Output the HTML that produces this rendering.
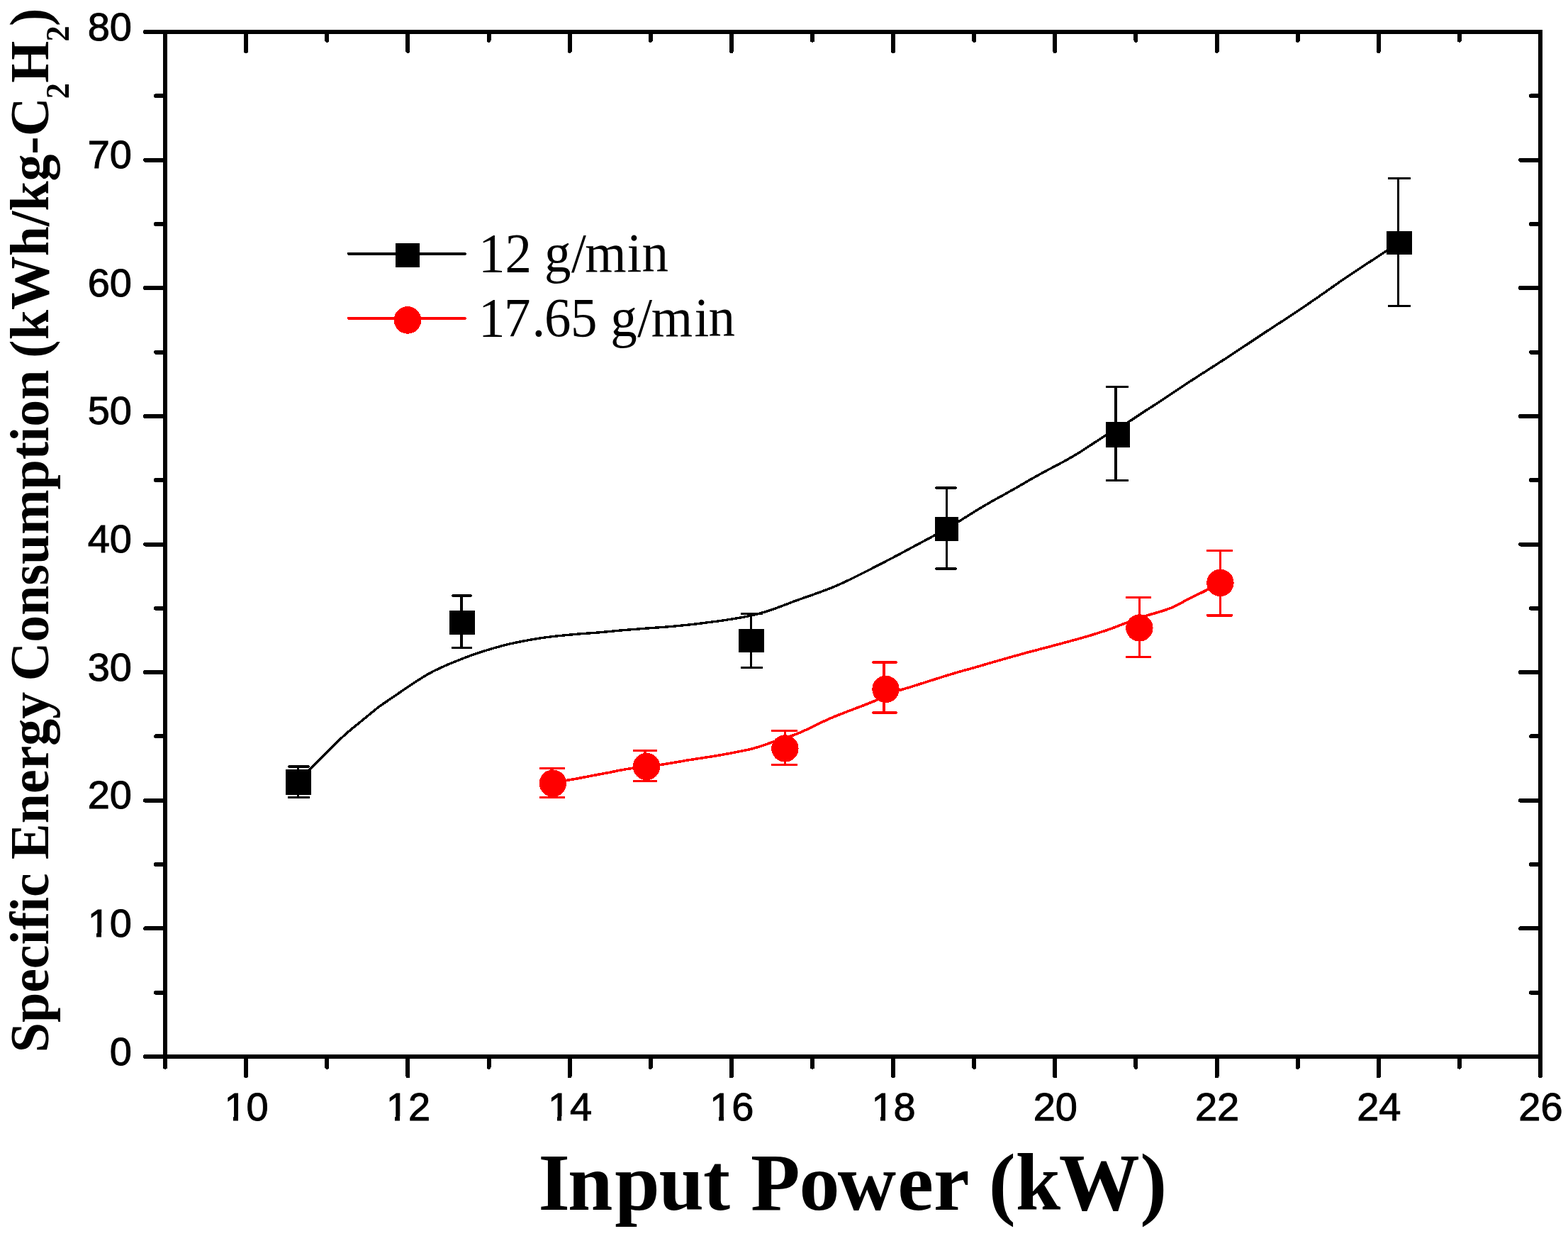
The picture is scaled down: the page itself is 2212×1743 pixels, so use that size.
<!DOCTYPE html><html><head><meta charset="utf-8"><title>Specific Energy Consumption vs Input Power</title>
<style>html,body{margin:0;padding:0;background:#fff;}svg{display:block;} line,rect,path,circle{shape-rendering:crispEdges;}</style></head><body>
<svg width="2212" height="1743" viewBox="0 0 2212 1743">
<rect x="0" y="0" width="2212" height="1743" fill="#fff"/>
<line x1="420.5" y1="1081.0" x2="420.5" y2="1124.5" stroke="#000" stroke-width="3.2"/>
<line x1="407.5" y1="1081.0" x2="435.5" y2="1081.0" stroke="#000" stroke-width="3.4" stroke-linecap="round"/>
<line x1="407.5" y1="1124.5" x2="435.5" y2="1124.5" stroke="#000" stroke-width="3.4" stroke-linecap="round"/>
<line x1="651.0" y1="840.0" x2="651.0" y2="913.4" stroke="#000" stroke-width="3.2"/>
<line x1="638.5" y1="840.0" x2="664.5" y2="840.0" stroke="#000" stroke-width="3.4" stroke-linecap="round"/>
<line x1="638.5" y1="913.4" x2="664.5" y2="913.4" stroke="#000" stroke-width="3.4" stroke-linecap="round"/>
<line x1="1059.5" y1="865.4" x2="1059.5" y2="941.4" stroke="#000" stroke-width="3.2"/>
<line x1="1046.5" y1="865.4" x2="1074.5" y2="865.4" stroke="#000" stroke-width="3.4" stroke-linecap="round"/>
<line x1="1046.5" y1="941.4" x2="1074.5" y2="941.4" stroke="#000" stroke-width="3.4" stroke-linecap="round"/>
<line x1="1335.4" y1="688.0" x2="1335.4" y2="801.9" stroke="#000" stroke-width="3.2"/>
<line x1="1320.5" y1="688.0" x2="1348.5" y2="688.0" stroke="#000" stroke-width="3.4" stroke-linecap="round"/>
<line x1="1320.5" y1="801.9" x2="1348.5" y2="801.9" stroke="#000" stroke-width="3.4" stroke-linecap="round"/>
<line x1="1574.0" y1="545.5" x2="1574.0" y2="677.5" stroke="#000" stroke-width="3.2"/>
<line x1="1561.5" y1="545.5" x2="1590.5" y2="545.5" stroke="#000" stroke-width="3.4" stroke-linecap="round"/>
<line x1="1561.5" y1="677.5" x2="1590.5" y2="677.5" stroke="#000" stroke-width="3.4" stroke-linecap="round"/>
<line x1="1972.5" y1="251.5" x2="1972.5" y2="431.6" stroke="#000" stroke-width="3.2"/>
<line x1="1959.5" y1="251.5" x2="1988.5" y2="251.5" stroke="#000" stroke-width="3.4" stroke-linecap="round"/>
<line x1="1959.5" y1="431.6" x2="1988.5" y2="431.6" stroke="#000" stroke-width="3.4" stroke-linecap="round"/>
<line x1="778.0" y1="1083.5" x2="778.0" y2="1124.4" stroke="#f00" stroke-width="3.2"/>
<line x1="762.5" y1="1083.5" x2="795.5" y2="1083.5" stroke="#f00" stroke-width="3.4" stroke-linecap="round"/>
<line x1="762.5" y1="1124.4" x2="795.5" y2="1124.4" stroke="#f00" stroke-width="3.4" stroke-linecap="round"/>
<line x1="910.0" y1="1058.4" x2="910.0" y2="1101.4" stroke="#f00" stroke-width="3.2"/>
<line x1="894.5" y1="1058.4" x2="925.5" y2="1058.4" stroke="#f00" stroke-width="3.4" stroke-linecap="round"/>
<line x1="894.5" y1="1101.4" x2="925.5" y2="1101.4" stroke="#f00" stroke-width="3.4" stroke-linecap="round"/>
<line x1="1107.5" y1="1030.5" x2="1107.5" y2="1078.5" stroke="#f00" stroke-width="3.2"/>
<line x1="1089.5" y1="1030.5" x2="1123.5" y2="1030.5" stroke="#f00" stroke-width="3.4" stroke-linecap="round"/>
<line x1="1089.5" y1="1078.5" x2="1123.5" y2="1078.5" stroke="#f00" stroke-width="3.4" stroke-linecap="round"/>
<line x1="1247.0" y1="934.0" x2="1247.0" y2="1005.0" stroke="#f00" stroke-width="3.2"/>
<line x1="1231.5" y1="934.0" x2="1264.5" y2="934.0" stroke="#f00" stroke-width="3.4" stroke-linecap="round"/>
<line x1="1231.5" y1="1005.0" x2="1264.5" y2="1005.0" stroke="#f00" stroke-width="3.4" stroke-linecap="round"/>
<line x1="1607.5" y1="842.5" x2="1607.5" y2="926.4" stroke="#f00" stroke-width="3.2"/>
<line x1="1589.5" y1="842.5" x2="1622.5" y2="842.5" stroke="#f00" stroke-width="3.4" stroke-linecap="round"/>
<line x1="1589.5" y1="926.4" x2="1622.5" y2="926.4" stroke="#f00" stroke-width="3.4" stroke-linecap="round"/>
<line x1="1721.5" y1="776.4" x2="1721.5" y2="867.8" stroke="#f00" stroke-width="3.2"/>
<line x1="1703.5" y1="776.4" x2="1737.5" y2="776.4" stroke="#f00" stroke-width="3.4" stroke-linecap="round"/>
<line x1="1703.5" y1="867.8" x2="1737.5" y2="867.8" stroke="#f00" stroke-width="3.4" stroke-linecap="round"/>
<path d="M421.0,1103.0 C423.8,1099.9 432.3,1090.4 437.8,1084.5 C443.4,1078.6 448.7,1073.3 454.3,1067.7 C459.8,1062.1 465.0,1056.7 470.9,1051.0 C476.8,1045.3 483.4,1039.0 489.6,1033.5 C495.9,1028.0 502.9,1022.5 508.4,1018.0 C513.9,1013.4 518.2,1009.9 522.8,1006.3 C527.3,1002.6 530.0,1000.1 535.6,996.0 C541.2,992.0 548.5,987.1 556.1,982.0 C563.6,976.8 573.2,970.1 581.0,965.0 C588.8,959.9 596.0,955.1 603.0,951.1 C610.0,947.2 616.0,944.3 622.9,941.1 C629.9,937.9 636.1,935.3 644.8,931.9 C653.5,928.4 663.3,924.4 675.4,920.5 C687.5,916.6 702.3,912.0 717.2,908.5 C732.2,905.0 749.8,901.8 765.0,899.5 C780.2,897.2 795.2,896.0 808.5,894.7 C821.8,893.4 833.1,892.9 844.8,891.9 C856.6,890.9 867.6,889.7 879.0,888.7 C890.4,887.8 901.7,886.9 913.1,886.0 C924.5,885.1 936.5,884.4 947.2,883.5 C958.0,882.5 968.6,881.3 977.5,880.4 C986.4,879.4 993.4,878.4 1000.6,877.5 C1007.9,876.6 1014.2,875.8 1021.1,874.8 C1028.0,873.7 1035.3,872.6 1042.2,871.4 C1049.0,870.2 1055.6,869.0 1062.2,867.4 C1068.7,865.9 1075.0,864.2 1081.6,862.2 C1088.2,860.1 1094.7,857.7 1101.7,855.1 C1108.6,852.6 1115.6,849.7 1123.3,846.9 C1131.0,844.1 1139.6,841.2 1147.8,838.3 C1155.9,835.3 1164.4,832.4 1172.3,829.2 C1180.2,826.0 1187.6,822.6 1195.3,819.0 C1203.0,815.4 1210.7,811.5 1218.4,807.6 C1226.1,803.7 1233.7,799.8 1241.4,795.8 C1249.1,791.8 1256.5,788.1 1264.5,783.8 C1272.5,779.6 1281.1,774.9 1289.5,770.4 C1298.0,765.9 1307.4,760.9 1315.0,756.8 C1322.6,752.6 1329.0,749.3 1335.2,745.8 C1341.5,742.2 1346.5,739.2 1352.7,735.4 C1358.8,731.6 1365.3,727.3 1372.1,723.2 C1378.8,719.1 1386.0,714.7 1393.0,710.6 C1400.1,706.5 1407.2,702.6 1414.3,698.7 C1421.4,694.7 1428.4,690.8 1435.5,686.8 C1442.6,682.7 1449.6,678.5 1456.7,674.5 C1463.8,670.6 1470.8,666.7 1477.9,662.9 C1485.0,659.1 1492.0,655.6 1499.1,651.7 C1506.2,647.8 1513.4,643.8 1520.4,639.5 C1527.3,635.3 1534.3,630.5 1540.8,626.3 C1547.2,622.1 1553.4,618.0 1559.3,614.4 C1565.3,610.8 1570.8,608.0 1576.5,604.6 C1582.2,601.2 1587.5,598.0 1593.5,594.1 C1599.6,590.2 1606.3,585.6 1612.8,581.3 C1619.4,577.0 1625.9,573.0 1632.8,568.4 C1639.8,563.8 1645.8,559.7 1654.6,553.9 C1663.5,548.0 1674.4,540.7 1686.1,533.2 C1697.7,525.6 1712.0,516.7 1724.4,508.6 C1736.8,500.5 1748.9,492.4 1760.7,484.7 C1772.4,476.9 1783.4,469.5 1794.8,462.1 C1806.2,454.6 1817.6,447.5 1829.0,439.8 C1840.4,432.2 1851.7,424.3 1863.1,416.4 C1874.5,408.5 1886.3,399.9 1897.2,392.5 C1908.2,385.0 1919.3,377.8 1928.8,371.6 C1938.3,365.3 1946.4,360.0 1954.0,355.1 C1961.5,350.2 1970.7,344.4 1974.0,342.3" fill="none" stroke="#000" stroke-width="3.4" stroke-linejoin="round"/>
<path d="M779.9,1104.6 C782.9,1104.0 792.2,1101.9 797.8,1100.8 C803.4,1099.7 808.4,1099.0 813.4,1098.1 C818.4,1097.1 822.8,1096.2 827.8,1095.3 C832.7,1094.4 837.9,1093.4 843.1,1092.4 C848.3,1091.4 853.9,1090.4 858.9,1089.5 C864.0,1088.5 868.2,1087.5 873.3,1086.5 C878.4,1085.5 883.5,1084.6 889.6,1083.7 C895.8,1082.8 903.5,1081.9 910.3,1081.1 C917.2,1080.2 924.1,1079.5 930.7,1078.6 C937.2,1077.7 943.0,1076.7 949.7,1075.6 C956.4,1074.5 963.7,1073.1 970.8,1071.9 C978.0,1070.8 985.5,1069.7 992.6,1068.6 C999.7,1067.5 1006.1,1066.5 1013.4,1065.3 C1020.6,1064.0 1028.6,1062.6 1036.2,1061.1 C1043.8,1059.6 1052.3,1058.0 1059.0,1056.4 C1065.8,1054.7 1071.3,1053.0 1076.7,1051.2 C1082.1,1049.4 1086.5,1047.5 1091.4,1045.8 C1096.4,1044.1 1101.4,1042.7 1106.5,1041.0 C1111.6,1039.3 1116.6,1037.8 1121.9,1035.8 C1127.2,1033.7 1132.9,1031.2 1138.3,1028.7 C1143.7,1026.2 1148.8,1023.6 1154.2,1021.0 C1159.7,1018.4 1164.5,1015.9 1170.8,1013.2 C1177.1,1010.5 1184.6,1007.6 1192.0,1004.7 C1199.4,1001.8 1207.9,998.7 1215.2,995.9 C1222.4,993.1 1229.2,990.4 1235.4,987.8 C1241.5,985.2 1246.7,982.5 1252.2,980.2 C1257.6,977.8 1262.3,975.7 1267.8,973.8 C1273.4,971.9 1278.7,970.6 1285.6,968.5 C1292.4,966.4 1299.6,964.0 1309.1,961.0 C1318.5,958.0 1330.3,954.2 1342.3,950.6 C1354.4,947.0 1369.1,943.0 1381.5,939.4 C1394.0,935.8 1405.1,932.5 1416.8,929.2 C1428.6,925.9 1439.0,922.9 1452.1,919.4 C1465.2,915.9 1481.3,911.8 1495.3,908.0 C1509.2,904.3 1524.3,900.1 1535.7,896.8 C1547.1,893.4 1555.5,890.7 1563.6,887.9 C1571.7,885.1 1577.9,882.5 1584.3,880.1 C1590.7,877.7 1596.1,875.4 1601.9,873.4 C1607.8,871.3 1613.4,869.5 1619.3,867.6 C1625.3,865.8 1632.1,864.0 1637.7,862.2 C1643.3,860.4 1648.4,858.8 1653.0,856.9 C1657.6,855.0 1661.4,852.8 1665.3,850.8 C1669.2,848.8 1672.6,846.7 1676.3,844.8 C1679.9,843.0 1683.0,841.6 1687.2,839.6 C1691.5,837.5 1696.0,835.3 1701.7,832.4 C1707.4,829.5 1718.1,823.6 1721.4,821.9" fill="none" stroke="#f00" stroke-width="3.6" stroke-linejoin="round"/>
<rect x="403.0" y="1085.0" width="36.0" height="36.0" fill="#000"/>
<rect x="634.0" y="861.0" width="36.0" height="34.0" fill="#000"/>
<rect x="1042.0" y="887.0" width="36.0" height="33.0" fill="#000"/>
<rect x="1319.0" y="729.0" width="33.0" height="34.0" fill="#000"/>
<rect x="1560.0" y="595.0" width="34.0" height="36.0" fill="#000"/>
<rect x="1956.0" y="326.0" width="36.0" height="32.5" fill="#000"/>
<circle cx="779.9" cy="1104.6" r="19.2" fill="#f00"/>
<circle cx="912.0" cy="1081.0" r="19.2" fill="#f00"/>
<circle cx="1107.4" cy="1055.5" r="19.2" fill="#f00"/>
<circle cx="1249.5" cy="971.9" r="19.2" fill="#f00"/>
<circle cx="1607.4" cy="885.5" r="19.2" fill="#f00"/>
<circle cx="1721.4" cy="821.9" r="19.2" fill="#f00"/>
<line x1="233.0" y1="1490.0" x2="233.0" y2="1504.7" stroke="#000" stroke-width="6" stroke-linecap="round"/>
<line x1="233.0" y1="45.0" x2="233.0" y2="56.7" stroke="#000" stroke-width="6" stroke-linecap="round"/>
<line x1="347.1" y1="1490.0" x2="347.1" y2="1517.5" stroke="#000" stroke-width="6" stroke-linecap="round"/>
<line x1="347.1" y1="45.0" x2="347.1" y2="72.0" stroke="#000" stroke-width="6" stroke-linecap="round"/>
<line x1="461.2" y1="1490.0" x2="461.2" y2="1504.7" stroke="#000" stroke-width="6" stroke-linecap="round"/>
<line x1="461.2" y1="45.0" x2="461.2" y2="56.7" stroke="#000" stroke-width="6" stroke-linecap="round"/>
<line x1="575.4" y1="1490.0" x2="575.4" y2="1517.5" stroke="#000" stroke-width="6" stroke-linecap="round"/>
<line x1="575.4" y1="45.0" x2="575.4" y2="72.0" stroke="#000" stroke-width="6" stroke-linecap="round"/>
<line x1="689.5" y1="1490.0" x2="689.5" y2="1504.7" stroke="#000" stroke-width="6" stroke-linecap="round"/>
<line x1="689.5" y1="45.0" x2="689.5" y2="56.7" stroke="#000" stroke-width="6" stroke-linecap="round"/>
<line x1="803.6" y1="1490.0" x2="803.6" y2="1517.5" stroke="#000" stroke-width="6" stroke-linecap="round"/>
<line x1="803.6" y1="45.0" x2="803.6" y2="72.0" stroke="#000" stroke-width="6" stroke-linecap="round"/>
<line x1="917.7" y1="1490.0" x2="917.7" y2="1504.7" stroke="#000" stroke-width="6" stroke-linecap="round"/>
<line x1="917.7" y1="45.0" x2="917.7" y2="56.7" stroke="#000" stroke-width="6" stroke-linecap="round"/>
<line x1="1031.8" y1="1490.0" x2="1031.8" y2="1517.5" stroke="#000" stroke-width="6" stroke-linecap="round"/>
<line x1="1031.8" y1="45.0" x2="1031.8" y2="72.0" stroke="#000" stroke-width="6" stroke-linecap="round"/>
<line x1="1146.0" y1="1490.0" x2="1146.0" y2="1504.7" stroke="#000" stroke-width="6" stroke-linecap="round"/>
<line x1="1146.0" y1="45.0" x2="1146.0" y2="56.7" stroke="#000" stroke-width="6" stroke-linecap="round"/>
<line x1="1260.1" y1="1490.0" x2="1260.1" y2="1517.5" stroke="#000" stroke-width="6" stroke-linecap="round"/>
<line x1="1260.1" y1="45.0" x2="1260.1" y2="72.0" stroke="#000" stroke-width="6" stroke-linecap="round"/>
<line x1="1374.2" y1="1490.0" x2="1374.2" y2="1504.7" stroke="#000" stroke-width="6" stroke-linecap="round"/>
<line x1="1374.2" y1="45.0" x2="1374.2" y2="56.7" stroke="#000" stroke-width="6" stroke-linecap="round"/>
<line x1="1488.3" y1="1490.0" x2="1488.3" y2="1517.5" stroke="#000" stroke-width="6" stroke-linecap="round"/>
<line x1="1488.3" y1="45.0" x2="1488.3" y2="72.0" stroke="#000" stroke-width="6" stroke-linecap="round"/>
<line x1="1602.4" y1="1490.0" x2="1602.4" y2="1504.7" stroke="#000" stroke-width="6" stroke-linecap="round"/>
<line x1="1602.4" y1="45.0" x2="1602.4" y2="56.7" stroke="#000" stroke-width="6" stroke-linecap="round"/>
<line x1="1716.6" y1="1490.0" x2="1716.6" y2="1517.5" stroke="#000" stroke-width="6" stroke-linecap="round"/>
<line x1="1716.6" y1="45.0" x2="1716.6" y2="72.0" stroke="#000" stroke-width="6" stroke-linecap="round"/>
<line x1="1830.7" y1="1490.0" x2="1830.7" y2="1504.7" stroke="#000" stroke-width="6" stroke-linecap="round"/>
<line x1="1830.7" y1="45.0" x2="1830.7" y2="56.7" stroke="#000" stroke-width="6" stroke-linecap="round"/>
<line x1="1944.8" y1="1490.0" x2="1944.8" y2="1517.5" stroke="#000" stroke-width="6" stroke-linecap="round"/>
<line x1="1944.8" y1="45.0" x2="1944.8" y2="72.0" stroke="#000" stroke-width="6" stroke-linecap="round"/>
<line x1="2058.9" y1="1490.0" x2="2058.9" y2="1504.7" stroke="#000" stroke-width="6" stroke-linecap="round"/>
<line x1="2058.9" y1="45.0" x2="2058.9" y2="56.7" stroke="#000" stroke-width="6" stroke-linecap="round"/>
<line x1="2173.0" y1="1490.0" x2="2173.0" y2="1517.5" stroke="#000" stroke-width="6" stroke-linecap="round"/>
<line x1="2173.0" y1="45.0" x2="2173.0" y2="72.0" stroke="#000" stroke-width="6" stroke-linecap="round"/>
<line x1="233.0" y1="1490.0" x2="205.0" y2="1490.0" stroke="#000" stroke-width="6" stroke-linecap="round"/>
<line x1="2173.0" y1="1490.0" x2="2145.0" y2="1490.0" stroke="#000" stroke-width="6" stroke-linecap="round"/>
<line x1="233.0" y1="1399.7" x2="220.0" y2="1399.7" stroke="#000" stroke-width="6" stroke-linecap="round"/>
<line x1="2173.0" y1="1399.7" x2="2160.0" y2="1399.7" stroke="#000" stroke-width="6" stroke-linecap="round"/>
<line x1="233.0" y1="1309.4" x2="205.0" y2="1309.4" stroke="#000" stroke-width="6" stroke-linecap="round"/>
<line x1="2173.0" y1="1309.4" x2="2145.0" y2="1309.4" stroke="#000" stroke-width="6" stroke-linecap="round"/>
<line x1="233.0" y1="1219.1" x2="220.0" y2="1219.1" stroke="#000" stroke-width="6" stroke-linecap="round"/>
<line x1="2173.0" y1="1219.1" x2="2160.0" y2="1219.1" stroke="#000" stroke-width="6" stroke-linecap="round"/>
<line x1="233.0" y1="1128.8" x2="205.0" y2="1128.8" stroke="#000" stroke-width="6" stroke-linecap="round"/>
<line x1="2173.0" y1="1128.8" x2="2145.0" y2="1128.8" stroke="#000" stroke-width="6" stroke-linecap="round"/>
<line x1="233.0" y1="1038.4" x2="220.0" y2="1038.4" stroke="#000" stroke-width="6" stroke-linecap="round"/>
<line x1="2173.0" y1="1038.4" x2="2160.0" y2="1038.4" stroke="#000" stroke-width="6" stroke-linecap="round"/>
<line x1="233.0" y1="948.1" x2="205.0" y2="948.1" stroke="#000" stroke-width="6" stroke-linecap="round"/>
<line x1="2173.0" y1="948.1" x2="2145.0" y2="948.1" stroke="#000" stroke-width="6" stroke-linecap="round"/>
<line x1="233.0" y1="857.8" x2="220.0" y2="857.8" stroke="#000" stroke-width="6" stroke-linecap="round"/>
<line x1="2173.0" y1="857.8" x2="2160.0" y2="857.8" stroke="#000" stroke-width="6" stroke-linecap="round"/>
<line x1="233.0" y1="767.5" x2="205.0" y2="767.5" stroke="#000" stroke-width="6" stroke-linecap="round"/>
<line x1="2173.0" y1="767.5" x2="2145.0" y2="767.5" stroke="#000" stroke-width="6" stroke-linecap="round"/>
<line x1="233.0" y1="677.2" x2="220.0" y2="677.2" stroke="#000" stroke-width="6" stroke-linecap="round"/>
<line x1="2173.0" y1="677.2" x2="2160.0" y2="677.2" stroke="#000" stroke-width="6" stroke-linecap="round"/>
<line x1="233.0" y1="586.9" x2="205.0" y2="586.9" stroke="#000" stroke-width="6" stroke-linecap="round"/>
<line x1="2173.0" y1="586.9" x2="2145.0" y2="586.9" stroke="#000" stroke-width="6" stroke-linecap="round"/>
<line x1="233.0" y1="496.6" x2="220.0" y2="496.6" stroke="#000" stroke-width="6" stroke-linecap="round"/>
<line x1="2173.0" y1="496.6" x2="2160.0" y2="496.6" stroke="#000" stroke-width="6" stroke-linecap="round"/>
<line x1="233.0" y1="406.2" x2="205.0" y2="406.2" stroke="#000" stroke-width="6" stroke-linecap="round"/>
<line x1="2173.0" y1="406.2" x2="2145.0" y2="406.2" stroke="#000" stroke-width="6" stroke-linecap="round"/>
<line x1="233.0" y1="315.9" x2="220.0" y2="315.9" stroke="#000" stroke-width="6" stroke-linecap="round"/>
<line x1="2173.0" y1="315.9" x2="2160.0" y2="315.9" stroke="#000" stroke-width="6" stroke-linecap="round"/>
<line x1="233.0" y1="225.6" x2="205.0" y2="225.6" stroke="#000" stroke-width="6" stroke-linecap="round"/>
<line x1="2173.0" y1="225.6" x2="2145.0" y2="225.6" stroke="#000" stroke-width="6" stroke-linecap="round"/>
<line x1="233.0" y1="135.3" x2="220.0" y2="135.3" stroke="#000" stroke-width="6" stroke-linecap="round"/>
<line x1="2173.0" y1="135.3" x2="2160.0" y2="135.3" stroke="#000" stroke-width="6" stroke-linecap="round"/>
<line x1="233.0" y1="45.0" x2="205.0" y2="45.0" stroke="#000" stroke-width="6" stroke-linecap="round"/>
<line x1="2173.0" y1="45.0" x2="2145.0" y2="45.0" stroke="#000" stroke-width="6" stroke-linecap="round"/>
<rect x="233" y="45" width="1940" height="1445" fill="none" stroke="#000" stroke-width="6"/>
<g font-family="Liberation Sans, Arial, sans-serif" font-size="56" fill="#000" stroke="#000" stroke-width="1">
<text x="347.6" y="1580" text-anchor="middle">10</text>
<text x="575.9" y="1580" text-anchor="middle">12</text>
<text x="804.1" y="1580" text-anchor="middle">14</text>
<text x="1032.3" y="1580" text-anchor="middle">16</text>
<text x="1260.6" y="1580" text-anchor="middle">18</text>
<text x="1488.8" y="1580" text-anchor="middle">20</text>
<text x="1717.1" y="1580" text-anchor="middle">22</text>
<text x="1945.3" y="1580" text-anchor="middle">24</text>
<text x="2173.5" y="1580" text-anchor="middle">26</text>
<text x="186" y="1501.5" text-anchor="end">0</text>
<text x="186" y="1320.9" text-anchor="end">10</text>
<text x="186" y="1140.2" text-anchor="end">20</text>
<text x="186" y="959.6" text-anchor="end">30</text>
<text x="186" y="779.0" text-anchor="end">40</text>
<text x="186" y="598.4" text-anchor="end">50</text>
<text x="186" y="417.8" text-anchor="end">60</text>
<text x="186" y="237.1" text-anchor="end">70</text>
<text x="186" y="56.5" text-anchor="end">80</text>
</g>
<rect x="317.47" y="1574.40" width="11.60" height="7" fill="#fff"/>
<rect x="335.87" y="1574.40" width="12.00" height="7" fill="#fff"/>
<rect x="545.71" y="1574.40" width="11.60" height="7" fill="#fff"/>
<rect x="564.11" y="1574.40" width="12.00" height="7" fill="#fff"/>
<rect x="773.95" y="1574.40" width="11.60" height="7" fill="#fff"/>
<rect x="792.35" y="1574.40" width="12.00" height="7" fill="#fff"/>
<rect x="1002.19" y="1574.40" width="11.60" height="7" fill="#fff"/>
<rect x="1020.59" y="1574.40" width="12.00" height="7" fill="#fff"/>
<rect x="1230.43" y="1574.40" width="11.60" height="7" fill="#fff"/>
<rect x="1248.83" y="1574.40" width="12.00" height="7" fill="#fff"/>
<rect x="124.71" y="1315.28" width="11.60" height="7" fill="#fff"/>
<rect x="143.11" y="1315.28" width="12.00" height="7" fill="#fff"/>
<line x1="491.8" y1="357.9" x2="655.9" y2="357.9" stroke="#000" stroke-width="4" stroke-linecap="round"/>
<rect x="558" y="343" width="34" height="33.8" fill="#000"/>
<line x1="491.8" y1="448.9" x2="655.9" y2="448.9" stroke="#f00" stroke-width="4" stroke-linecap="round"/>
<circle cx="575" cy="451.4" r="19.3" fill="#f00"/>
<text transform="scale(0.9500,1)" x="710.58 749.95 786.95 808.50 848.47 868.74 930.95 953.16" y="383.00" font-family="Liberation Serif, Times New Roman, serif" font-weight="normal" font-size="79" fill="#000">12 g/min</text>
<text transform="scale(0.9500,1)" x="710.63 748.37 789.92 808.32 847.29 885.29 906.45 946.58 967.21 1031.00 1052.11" y="474.40" font-family="Liberation Serif, Times New Roman, serif" font-weight="normal" font-size="79" fill="#000">17.65 g/min</text>
<text x="759.55 801.00 867.15 929.60 991.95 1030.95 1059.10 1127.50 1181.75 1266.30 1317.10 1367.10 1394.65 1432.85 1493.70 1608.30" y="1706.00" font-family="Liberation Serif, Times New Roman, serif" font-weight="bold" font-size="114" fill="#000">Input Power (kW)</text>
<text transform="rotate(-90) scale(0.980,1)" y="67.7" font-family="Liberation Serif, Times New Roman, serif" font-weight="bold" font-size="77.5" fill="#000"><tspan x="-1514.61">Specific </tspan><tspan x="-1236.71">Energy </tspan><tspan x="-980.12">Consumption </tspan><tspan x="-514.94">(kWh/kg-C</tspan><tspan x="-142.41" y="97.5" font-size="46">2</tspan><tspan x="-119.06" y="67.7">H</tspan><tspan x="-59.96" y="97.5" font-size="46">2</tspan><tspan x="-37.69" y="67.7">)</tspan></text>
</svg></body></html>
